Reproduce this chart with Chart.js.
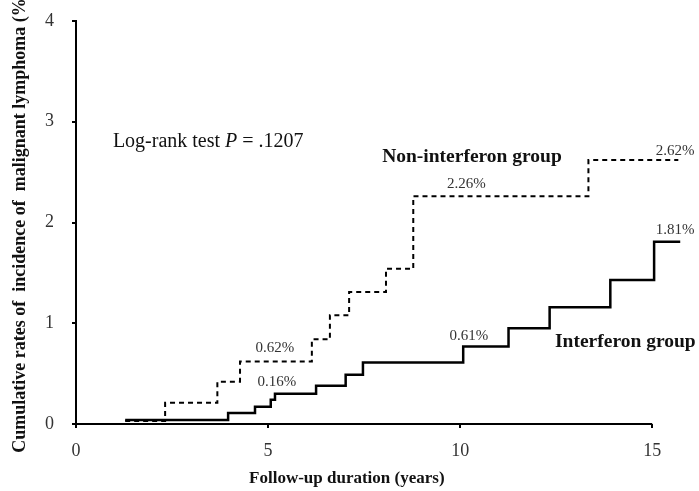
<!DOCTYPE html>
<html>
<head>
<meta charset="utf-8">
<script src="https://cdn.jsdelivr.net/npm/chart.js@4"></script>
<style>
  html, body { margin: 0; padding: 0; background: #fff; }
  #wrap { width: 699px; height: 491px; }
</style>
</head>
<body>
<div id="wrap"><canvas id="grafico_linfoma"></canvas></div>
<script>
// data (years, cumulative %)
var anosInterferon = [1.28, 3.96, 4.66, 5.07, 5.18, 6.25, 7.02, 7.47, 10.08, 11.26, 12.33, 13.91, 15.05, 15.73];
var taxasInterferon = [0.04, 0.11, 0.17, 0.24, 0.30, 0.38, 0.49, 0.61, 0.77, 0.95, 1.16, 1.43, 1.81, 1.81];

var anosNaoInterferon = [1.28, 2.32, 3.68, 4.27, 6.14, 6.61, 7.11, 8.07, 8.78, 13.34, 15.68];
var taxasNaoInterferon = [0.03, 0.21, 0.42, 0.62, 0.84, 1.08, 1.31, 1.54, 2.26, 2.62, 2.62];

var ticksX = [0, 5, 10, 15];
var ticksY = [0, 1, 2, 3, 4];

// labels placed on the plot, in data units
var rotulosPct = [
  { texto: '0.16%', x: 5.23, y: 0.42 },
  { texto: '0.62%', x: 5.18, y: 0.75 },
  { texto: '0.61%', x: 10.23, y: 0.87 },
  { texto: '2.26%', x: 10.16, y: 2.38 },
  { texto: '2.62%', x: 15.6, y: 2.71 },
  { texto: '1.81%', x: 15.6, y: 1.92 }
];

function pontos(xs, ys) {
  return xs.map(function (x, i) { return { x: x, y: ys[i] }; });
}

var serif = '"Liberation Serif", "Times New Roman", serif';

var anotacoes = {
  id: 'anotacoes',
  afterDraw: function (chart) {
    var ctx = chart.ctx;
    var sx = chart.scales.x;
    var sy = chart.scales.y;
    ctx.save();

    // x axis line only up to the last tick
    ctx.strokeStyle = '#000';
    ctx.lineWidth = 2;
    ctx.beginPath();
    ctx.moveTo(sx.getPixelForValue(ticksX[0]) - 1, sy.getPixelForValue(0));
    ctx.lineTo(sx.getPixelForValue(ticksX[ticksX.length - 1]), sy.getPixelForValue(0));
    ctx.stroke();

    ctx.textBaseline = 'middle';

    // percentages
    ctx.fillStyle = '#333';
    ctx.textAlign = 'center';
    ctx.font = '15px ' + serif;
    rotulosPct.forEach(function (r) {
      ctx.fillText(r.texto, sx.getPixelForValue(r.x), sy.getPixelForValue(r.y));
    });

    // group names
    ctx.fillStyle = '#111';
    ctx.textAlign = 'left';
    ctx.font = 'bold 19.5px ' + serif;
    ctx.fillText('Non-interferon group', sx.getPixelForValue(7.97), sy.getPixelForValue(2.65));
    ctx.fillText('Interferon group', sx.getPixelForValue(12.47), sy.getPixelForValue(0.81));

    // log-rank text with italic P
    var px = sx.getPixelForValue(0.96);
    var py = sy.getPixelForValue(2.80);
    ctx.font = '20px ' + serif;
    var t1 = 'Log-rank test ';
    ctx.fillText(t1, px, py);
    px += ctx.measureText(t1).width;
    ctx.font = 'italic 20px ' + serif;
    ctx.fillText('P', px, py);
    px += ctx.measureText('P').width;
    ctx.font = '20px ' + serif;
    ctx.fillText(' = .1207', px, py);

    // x axis title
    ctx.textAlign = 'center';
    ctx.font = 'bold 17px ' + serif;
    ctx.fillText('Follow-up duration (years)', sx.getPixelForValue(7.05), chart.chartArea.bottom + 55);

    ctx.restore();
  }
};

new Chart(document.getElementById('grafico_linfoma'), {
  type: 'line',
  data: {
    datasets: [
      {
        label: 'Interferon group',
        data: pontos(anosInterferon, taxasInterferon),
        stepped: 'before',
        borderColor: '#000',
        borderWidth: 2.5,
        pointRadius: 0,
        fill: false
      },
      {
        label: 'Non-interferon group',
        data: pontos(anosNaoInterferon, taxasNaoInterferon),
        stepped: 'before',
        borderColor: '#000',
        borderWidth: 2,
        borderDash: [5, 4],
        pointRadius: 0,
        fill: false
      }
    ]
  },
  options: {
    responsive: true,
    maintainAspectRatio: false,
    animation: false,
    layout: { padding: { left: 0, top: 21, right: 18, bottom: 0 } },
    plugins: {
      legend: { display: false },
      tooltip: { enabled: false }
    },
    scales: {
      x: {
        type: 'linear',
        min: 0,
        max: 15.75,
        afterFit: function (s) { s.height = 67; s.paddingLeft = 0; s.paddingRight = 0; },
        afterBuildTicks: function (s) { s.ticks = ticksX.map(function (v) { return { value: v }; }); },
        border: { display: false },
        grid: { drawOnChartArea: false, drawTicks: true, tickLength: 4, color: '#000', lineWidth: 2 },
        ticks: {
          includeBounds: false,
          color: '#333',
          padding: 12,
          font: { family: serif, size: 18 }
        }
      },
      y: {
        min: 0,
        max: 4,
        afterFit: function (s) { s.width = 76; s.paddingTop = 0; s.paddingBottom = 0; },
        afterBuildTicks: function (s) { s.ticks = ticksY.map(function (v) { return { value: v }; }); },
        border: { display: true, color: '#000', width: 2 },
        grid: { drawOnChartArea: false, drawTicks: true, tickLength: 4, color: '#000', lineWidth: 2 },
        ticks: {
          color: '#333',
          padding: 18,
          font: { family: serif, size: 18 }
        },
        title: {
          display: true,
          text: 'Cumulative rates of  incidence of  malignant lymphoma (%)',
          color: '#111',
          padding: { top: 10, bottom: 0 },
          font: { family: serif, size: 18, weight: 'bold' }
        }
      }
    }
  },
  plugins: [anotacoes]
});
</script>
</body>
</html>
